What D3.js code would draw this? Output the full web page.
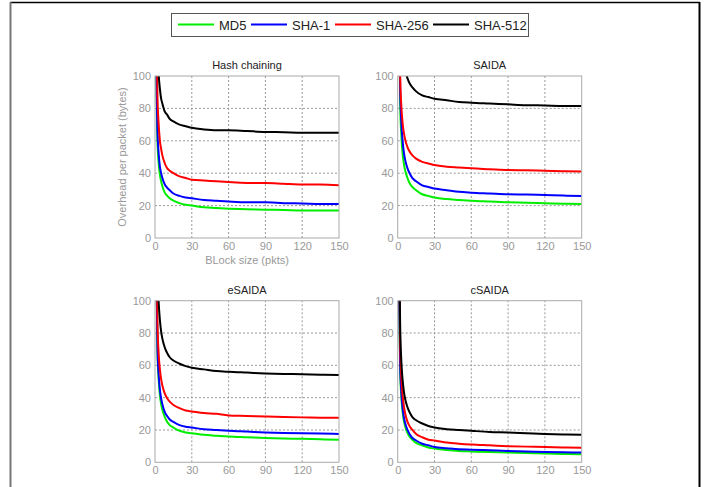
<!DOCTYPE html>
<html><head><meta charset="utf-8">
<script src="https://cdn.jsdelivr.net/npm/d3@7"></script>
<style>
body{margin:0;background:#fff;}
svg{display:block;font-family:"Liberation Sans",Arial,sans-serif;}
</style></head>
<body>
<svg id="chart" width="717" height="487"></svg>
<script>
const blockSizes = [1,2,3,4,5,6,8,10,12,15,20,25,30,40,50,60,75,90,105,120,135,150];
const seriesNames = ["MD5","SHA-1","SHA-256","SHA-512"];
const seriesColors = ["#00ee00","#0000ff","#ff0000","#000000"];
const panelTitles = ["Hash chaining","SAIDA","eSAIDA","cSAIDA"];
const xTicks = [0,30,60,90,120,150];
const yTicks = [0,20,40,60,80,100];

const hashMD5    = [100,60,46,39,35,32,28,26,24.5,23,21.5,20.5,20,19,18.5,18,17.8,17.5,17.3,17,17,17];
const hashSHA1   = [105,66,52,44,40,37,33,31,29.5,27.5,26,25,24.5,23.5,23,22.5,22,22,21.5,21.3,21,21];
const hashSHA256 = [140,88,70,60,55,51,46,43,41.5,40,38,37,36,35.5,35,34.5,34,34,33.5,33,33,32.5];
const hashSHA512 = [175,120,101,92,86,83,78,76,73.5,72,70,69,68,67,66.5,66.5,66,65.5,65.3,65,65,65];

const saidaMD5    = [146,83,63,52,46,42,37,33.5,31.5,29.5,27,26,25,24,23.5,23,22.5,22,21.8,21.5,21.2,21];
const saidaSHA1   = [160,93,71,60,53,48.5,43,39.5,37,35,32.5,31.5,30.5,29.5,28.5,28,27.5,27,26.8,26.5,26.2,26];
const saidaSHA256 = [160,101,81,71,65,61,56,53,51,49,47,46,45,44,43.5,43,42.5,42,41.8,41.5,41.2,41];
const saidaSHA512 = [217,149,126,115,108.5,104,98.5,95,93,90.5,88,87,86,85,84,83.5,83,82.5,82,81.8,81.5,81.5];

const esaidaMD5    = [124,69,51,41.5,36,32.5,28,25,23,21.5,19.5,18.5,18,17,16.5,16,15.5,15,14.7,14.5,14.2,14];
const esaidaSHA1   = [127,72,54,45,39.5,36,31,28.5,26.5,25,23,22,21.5,20.5,20,19.5,19,18.5,18.2,18,17.8,17.5];
const esaidaSHA256 = [147,87,67,57.5,51.5,47.5,42.5,39.5,37.5,35.5,33.5,32,31.5,30.5,30,29,28.7,28.3,28,27.8,27.6,27.5];
const esaidaSHA512 = [189,121,99,88,81,76.5,71,67.5,65,63,61,59.5,58.5,57.5,56.5,56,55.5,55,54.7,54.5,54.2,54];

const csaidaMD5    = [110,57.5,40,31,26,22.5,18,15.5,14,12,10.5,9.2,8.5,7.6,7,6.7,6.3,6,5.7,5.5,5.2,5];
const csaidaSHA1   = [116,61,43,33.5,28,24.5,20,17,15,13.5,11.5,10.5,9.5,8.7,8,7.8,7.4,7,6.7,6.4,6.2,6];
const csaidaSHA256 = [139,74,52,41.5,35,30.5,25,22,20,17.5,15.5,14,13.5,12.2,11.5,11,10.5,10,9.7,9.5,9.2,9];
const csaidaSHA512 = [152,85,62,51,44,39.5,34,30.5,28,26,24,22.5,21.5,20.5,20,19.5,18.8,18.5,18,17.5,17.2,17];

const panelData = [
  [hashMD5,hashSHA1,hashSHA256,hashSHA512],
  [saidaMD5,saidaSHA1,saidaSHA256,saidaSHA512],
  [esaidaMD5,esaidaSHA1,esaidaSHA256,esaidaSHA512],
  [csaidaMD5,csaidaSHA1,csaidaSHA256,csaidaSHA512]
];

const svg = d3.select("#chart");

// outer frame
svg.append("line").attr("x1",10).attr("x2",700).attr("y1",2.5).attr("y2",2.5).attr("stroke","#000").attr("stroke-width",1.5);
svg.append("line").attr("x1",10.5).attr("x2",10.5).attr("y1",2).attr("y2",487).attr("stroke","#777").attr("stroke-width",2);
svg.append("line").attr("x1",699.5).attr("x2",699.5).attr("y1",2).attr("y2",487).attr("stroke","#000").attr("stroke-width",2);

// legend
const lg = svg.append("g");
lg.append("rect").attr("x",171.5).attr("y",13.5).attr("width",357).attr("height",23)
  .attr("fill","#fff").attr("stroke","#555").attr("stroke-width",1);
const legX = [178,251,335,433];
seriesNames.forEach((n,i)=>{
  lg.append("line").attr("x1",legX[i]).attr("x2",legX[i]+36).attr("y1",24.5).attr("y2",24.5)
    .attr("stroke",seriesColors[i]).attr("stroke-width",2);
  lg.append("text").attr("x",legX[i]+41).attr("y",29.5).attr("font-size",13).attr("fill","#222").text(n);
});

const panels = [
  {x0:155,x1:339,y0:238,y1:76},
  {x0:397.7,x1:581.7,y0:238,y1:76},
  {x0:155,x1:339,y0:462.3,y1:300.7},
  {x0:397.7,x1:581.7,y0:462.3,y1:300.7}
];

panels.forEach((p,pi)=>{
  const x = d3.scaleLinear().domain([0,150]).range([p.x0,p.x1]);
  const y = d3.scaleLinear().domain([0,100]).range([p.y0,p.y1]);
  const g = svg.append("g");
  const clipId = "clip"+pi;
  g.append("clipPath").attr("id",clipId).append("rect")
    .attr("x",p.x0).attr("y",p.y1).attr("width",p.x1-p.x0).attr("height",p.y0-p.y1);

  // grid
  g.append("g").selectAll("line").data(xTicks.slice(1,-1)).join("line")
    .attr("x1",d=>x(d)).attr("x2",d=>x(d)).attr("y1",p.y0).attr("y2",p.y1)
    .attr("stroke","#999").attr("stroke-dasharray","2,2").attr("stroke-width",1);
  g.append("g").selectAll("line").data(yTicks.slice(1,-1)).join("line")
    .attr("x1",p.x0).attr("x2",p.x1).attr("y1",d=>y(d)).attr("y2",d=>y(d))
    .attr("stroke","#999").attr("stroke-dasharray","2,2").attr("stroke-width",1);

  // axes
  const ax = g.append("g").attr("transform",`translate(0,${p.y0})`)
    .call(d3.axisBottom(x).tickValues(xTicks).tickSize(0).tickPadding(4));
  const ay = g.append("g").attr("transform",`translate(${p.x0},0)`)
    .call(d3.axisLeft(y).tickValues(yTicks).tickSize(0).tickPadding(4));
  [ax,ay].forEach(a=>{
    a.select(".domain").remove();
    a.selectAll("text").attr("fill","#999").attr("font-size",11).attr("font-family","Liberation Sans, Arial, sans-serif");
  });

  // series
  const line = d3.line().x((d,i)=>x(blockSizes[i])).y(d=>y(d)).curve(d3.curveMonotoneX);
  const sg = g.append("g").attr("clip-path",`url(#${clipId})`);
  panelData[pi].forEach((vals,si)=>{
    sg.append("path").datum(vals).attr("d",line).attr("fill","none")
      .attr("stroke",seriesColors[si]).attr("stroke-width",2);
  });

  // box
  g.append("rect").attr("x",p.x0).attr("y",p.y1).attr("width",p.x1-p.x0).attr("height",p.y0-p.y1)
    .attr("fill","none").attr("stroke","#aaa").attr("stroke-width",1);

  // title
  g.append("text").attr("x",(p.x0+p.x1)/2).attr("y",p.y1-7).attr("text-anchor","middle")
    .attr("font-size",11).attr("fill","#222").text(panelTitles[pi]);

  if(pi===0){
    g.append("text").attr("x",(p.x0+p.x1)/2).attr("y",p.y0+26).attr("text-anchor","middle")
      .attr("font-size",11).attr("fill","#999").text("BLock size (pkts)");
    g.append("text").attr("transform",`translate(${p.x0-29},${(p.y0+p.y1)/2}) rotate(-90)`)
      .attr("text-anchor","middle").attr("font-size",11).attr("fill","#999").text("Overhead per packet (bytes)");
  }
});
</script>
</body></html>
